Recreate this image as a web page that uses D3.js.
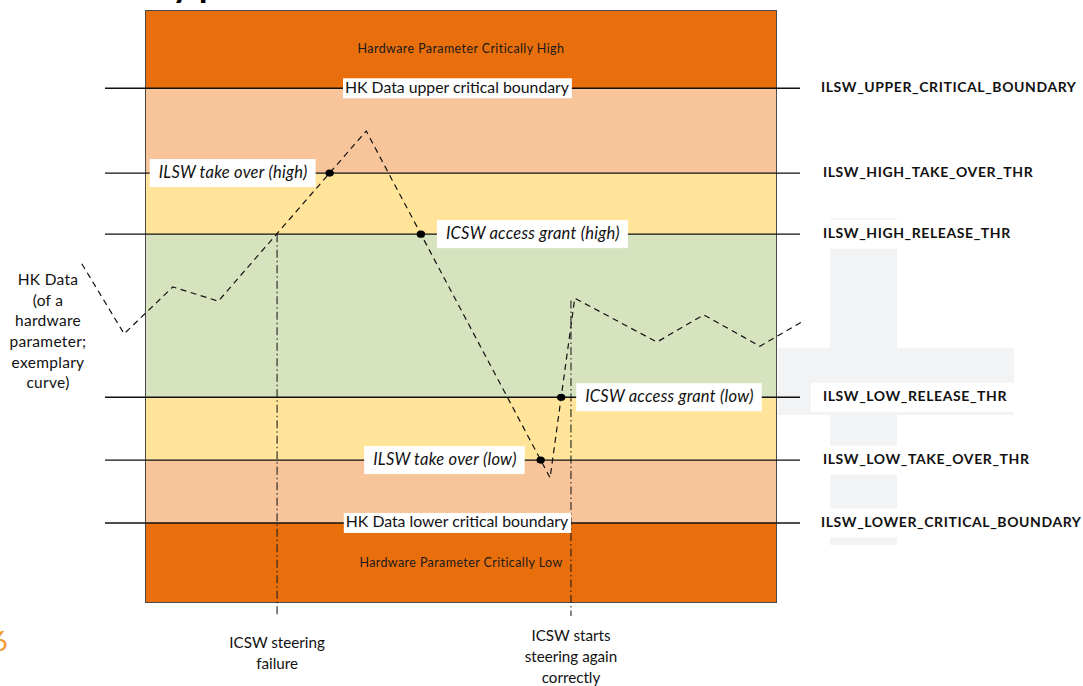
<!DOCTYPE html>
<html><head><meta charset="utf-8">
<script src="https://cdn.jsdelivr.net/npm/d3@7"></script>
<style>
html,body{margin:0;padding:0;background:#fff;}
svg{display:block;font-family:Lato,"Open Sans",sans-serif;}
</style></head>
<body>
<svg id="c" width="1083" height="686"></svg>
<script>
// ---------- data ----------
const thresholdNames = ["ILSW_UPPER_CRITICAL_BOUNDARY","ILSW_HIGH_TAKE_OVER_THR","ILSW_HIGH_RELEASE_THR","ILSW_LOW_RELEASE_THR","ILSW_LOW_TAKE_OVER_THR","ILSW_LOWER_CRITICAL_BOUNDARY"];
const thresholdValues = [86.8, 72.5, 62.2, 34.7, 24.1, 13.5];
const bandLabels = ["Hardware Parameter Critically High","","","","","","Hardware Parameter Critically Low"];
const boundaryLabels = ["HK Data upper critical boundary","","","","","HK Data lower critical boundary"];
const curveT = [-10.0, -3.3, 4.4, 11.6, 35.0, 64.1, 68.0, 81.0, 88.4, 97.3, 104.4];
const curveV = [57.2, 45.4, 53.3, 50.9, 79.6, 21.1, 51.4, 44.0, 48.6, 43.3, 47.7];
const eventLabels = ["ILSW take over (high)","ICSW access grant (high)","ICSW access grant (low)","ILSW take over (low)"];
const eventThreshold = [1, 2, 3, 4];
const eventSegment = [3, 4, 5, 4];
const markerT = [20.9, 67.4];
const markerTopV = [62.2, 51.0];
const markerLabels = [["ICSW steering","failure"],["ICSW starts","steering again","correctly"]];
const sideLabel = ["HK Data","(of a","hardware","parameter;","exemplary","curve)"];

// ---------- layout / style ----------
const svg = d3.select("#c");
const X0 = 145, X1 = 777, Y0 = 10, Y1 = 603;
const x = d3.scaleLinear().domain([0,100]).range([X0,X1]);
const y = d3.scaleLinear().domain([0,100]).range([Y1,Y0]);
const bandColors = ["#E96F0D","#F8C59B","#FFE499","#D7E2BF","#FFE499","#F8C59B","#E96F0D"];

// background decoration (grey cross)
const deco = svg.append("g").attr("fill","#F2F3F5");
deco.append("rect").attr("x",830).attr("y",218).attr("width",67).attr("height",327);
deco.append("rect").attr("x",778).attr("y",348).attr("width",236).attr("height",67);

// top cut-off title fragment
svg.append("text").attr("x",172).attr("y",-3).attr("font-size",36).attr("font-weight",700)
  .attr("fill","#000").text("y p");

// bands
const edges = [100, ...thresholdValues, 0];
const bands = d3.range(7).map(i => ({top: edges[i], bot: edges[i+1], color: bandColors[i], label: bandLabels[i]}));
svg.append("g").selectAll("rect").data(bands).join("rect")
  .attr("x", x(0)).attr("width", x(100)-x(0))
  .attr("y", d => y(d.top)).attr("height", d => y(d.bot)-y(d.top))
  .attr("fill", d => d.color);
svg.append("g").selectAll("text").data(bands.filter(d=>d.label)).join("text")
  .attr("x", (x(0)+x(100))/2).attr("y", d => (y(d.top)+y(d.bot))/2 + 1)
  .attr("text-anchor","middle").attr("dominant-baseline","middle")
  .attr("font-size",12.5).attr("letter-spacing",0.4).attr("fill","#1a1a1a").text(d => d.label);
svg.append("rect").attr("x",x(0)+0.5).attr("y",y(100)+0.5).attr("width",x(100)-x(0)-1).attr("height",y(0)-y(100)-1)
  .attr("fill","none").attr("stroke","#4a4a4a").attr("stroke-width",1);

// vertical marker lines (dash-dot)
svg.append("g").selectAll("line").data(markerT.map((t,i)=>({t, v: markerTopV[i]}))).join("line")
  .attr("x1", d => x(d.t)).attr("x2", d => x(d.t))
  .attr("y1", d => y(d.v)).attr("y2", 616)
  .attr("stroke","#222").attr("stroke-width",1.1).attr("stroke-dasharray","8,3,1.5,3");

// threshold lines
svg.append("g").selectAll("line").data(thresholdValues).join("line")
  .attr("x1",105).attr("x2",800).attr("y1", d => y(d)).attr("y2", d => y(d))
  .attr("stroke","#111").attr("stroke-width",1.4);

// right labels with white backgrounds
const rl = svg.append("g");
thresholdNames.forEach((n,i) => {
  const cy = y(thresholdValues[i]);
  const g = rl.append("g");
  const t = g.append("text").attr("x", n.includes("CRITICAL") ? 821 : 823).attr("y", cy)
    .attr("dominant-baseline","middle").attr("font-size",14).attr("letter-spacing",0.6).attr("font-weight",700)
    .attr("fill","#111").text(n);
  const w = t.node().getComputedTextLength();
  const right = n === "ILSW_LOW_RELEASE_THR" ? 1014 : (n.includes("CRITICAL") ? 821 : 823) + w + 4;
  g.insert("rect","text").attr("x",811).attr("y",cy-14.5).attr("width",right-811).attr("height",29).attr("fill","#fff");
});

// boundary labels with white boxes
const bl = svg.append("g");
boundaryLabels.forEach((lab,i) => {
  if(!lab) return;
  const g = bl.append("g");
  const t = g.append("text").attr("x",457).attr("y",y(thresholdValues[i])+0.5)
    .attr("text-anchor","middle").attr("dominant-baseline","middle")
    .attr("font-size",15.8).attr("fill","#111").text(lab);
  const bb = t.node().getBBox();
  g.insert("rect","text").attr("x",bb.x-2).attr("y",y(thresholdValues[i])-10).attr("width",bb.width+4).attr("height",20).attr("fill","#fff");
});

// curve
const pts = curveT.map((t,i)=>[t, curveV[i]]);
svg.append("path").datum(pts)
  .attr("d", d3.line().x(d=>x(d[0])).y(d=>y(d[1])))
  .attr("fill","none").attr("stroke","#111").attr("stroke-width",1.2).attr("stroke-dasharray","6,4.5");

// events: intersection of curve with thresholds
const ev = eventLabels.map((lab,i) => {
  const v = thresholdValues[eventThreshold[i]];
  const a = pts[eventSegment[i]], b = pts[eventSegment[i]+1];
  const t = a[0] + (v - a[1])/(b[1]-a[1])*(b[0]-a[0]);
  return {lab, t, v};
});
const evSide = [-1, 1, 1, -1];
const evGap = [14, 16, 15, 16];
const eg = svg.append("g");
ev.forEach((d,i) => {
  const cx = x(d.t), cy = y(d.v);
  const g = eg.append("g");
  const t = g.append("text").attr("y", cy+0.5).attr("dominant-baseline","middle")
    .attr("font-size",16.5).attr("letter-spacing",0.25).attr("font-style","italic").attr("fill","#111").text(d.lab);
  const w = t.node().getComputedTextLength();
  const padL = 9, padR = 8;
  const boxW = w + padL + padR;
  const bx = evSide[i] < 0 ? cx - evGap[i] - boxW : cx + evGap[i];
  t.attr("x", bx + padL);
  g.insert("rect","text").attr("x",bx).attr("y",cy-14).attr("width",boxW).attr("height",28).attr("fill","#fff");
  eg.append("ellipse").attr("cx",cx).attr("cy",cy).attr("rx",4.2).attr("ry",3.6).attr("fill","#000");
});

// side label
svg.append("g").selectAll("text").data(sideLabel).join("text")
  .attr("x",48).attr("y",(d,i)=>281+i*20.7).attr("text-anchor","middle").attr("dominant-baseline","middle")
  .attr("font-size",15.5).attr("letter-spacing",0.3).attr("fill","#111").text(d=>d);

// marker labels
markerLabels.forEach((lines,i) => {
  const cx = x(markerT[i]);
  const start = i===0 ? 644 : 637;
  svg.append("g").selectAll("text").data(lines).join("text")
    .attr("x",cx).attr("y",(d,j)=>start+j*21).attr("text-anchor","middle").attr("dominant-baseline","middle")
    .attr("font-size",15.2).attr("fill","#111").text(d=>d);
});

// page number fragment
svg.append("text").attr("x",-8).attr("y",651).attr("font-size",27).attr("fill","#F29A2E").text("6");
</script>
</body></html>
